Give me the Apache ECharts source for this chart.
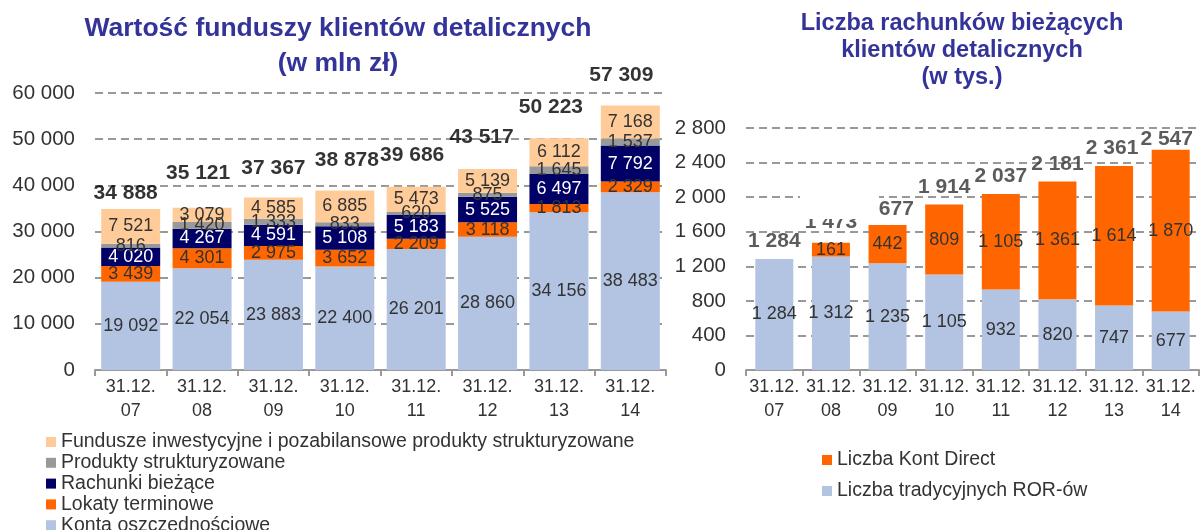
<!DOCTYPE html>
<html>
<head>
<meta charset="utf-8">
<title>Fundusze i rachunki klientów detalicznych</title>
<script src="https://cdn.jsdelivr.net/npm/echarts@6/dist/echarts.min.js"></script>
<style>
    html, body { margin: 0; padding: 0; background: #fff; }
    #charts { width: 1200px; height: 530px; }
</style>
</head>
<body>
<div id="charts"></div>
<script>
    'use strict';
    // os X - wspolna dla obu wykresow
    var categories = ['31.12.\n07', '31.12.\n08', '31.12.\n09', '31.12.\n10', '31.12.\n11', '31.12.\n12', '31.12.\n13', '31.12.\n14'];

    // lewy wykres (w mln zl)
    var kontaOszcz = [19092, 22054, 23883, 22400, 26201, 28860, 34156, 38483];
    var lokaty = [3439, 4301, 2975, 3652, 2209, 3118, 1813, 2329];
    var rachunki = [4020, 4267, 4591, 5108, 5183, 5525, 6497, 7792];
    var produktyStrukt = [816, 1420, 1333, 833, 620, 875, 1645, 1537];
    var fundusze = [7521, 3079, 4585, 6885, 5473, 5139, 6112, 7168];
    var fundTotals = [34888, 35121, 37367, 38878, 39686, 43517, 50223, 57309];

    // prawy wykres (w tys.)
    var tradycyjneROR = [1284, 1312, 1235, 1105, 932, 820, 747, 677];
    var kontaDirect = [0, 161, 442, 809, 1105, 1361, 1614, 1870];
    var rachTotals = [1284, 1473, 1677, 1914, 2037, 2181, 2361, 2547];

    var FONT = '"Liberation Sans", Arial, sans-serif';

    function fmt(v) {
        if (!v) return '';
        return String(v).replace(/\B(?=(\d{3})+(?!\d))/g, ' ');
    }

    function barSeries(name, data, color, gridIdx, stack, labelColor) {
        return {
            name: name,
            type: 'bar',
            stack: stack,
            xAxisIndex: gridIdx,
            yAxisIndex: gridIdx,
            data: data,
            barWidth: gridIdx === 0 ? 59 : 38,
            itemStyle: { color: color },
            label: {
                show: true,
                position: 'inside',
                color: labelColor || '#333',
                fontFamily: FONT,
                fontSize: 18,
                formatter: function(p) { return fmt(p.value); }
            }
        };
    }

    // sumy nad slupkami - niewidoczny scatter z etykieta
    function totalSeries(data, gridIdx, lift, shift, color) {
        return {
            type: 'scatter',
            xAxisIndex: gridIdx,
            yAxisIndex: gridIdx,
            symbolSize: 0,
            silent: true,
            z: 5,
            data: data.map(function(v, i) {
                return {
                    value: v,
                    label: { distance: lift[i], offset: [shift[i], 0] }
                };
            }),
            label: {
                show: true,
                position: 'top',
                color: color,
                fontFamily: FONT,
                fontWeight: 'bold',
                fontSize: 21,
                formatter: function(p) { return fmt(p.value); }
            }
        };
    }

    function catAxis(gridIdx) {
        return {
            type: 'category',
            gridIndex: gridIdx,
            data: categories,
            axisLine: { lineStyle: { color: '#999', width: 2 } },
            axisTick: { show: true, length: 6, lineStyle: { color: '#999', width: 2 } },
            axisLabel: { color: '#333', fontFamily: FONT, fontSize: 18, lineHeight: 24, margin: 5, interval: 0 }
        };
    }

    function valAxis(gridIdx, max, interval) {
        return {
            type: 'value',
            gridIndex: gridIdx,
            min: 0,
            max: max,
            interval: interval,
            axisLine: { show: false },
            axisTick: { show: false },
            axisLabel: {
                color: '#333', fontFamily: FONT, fontSize: 20.5, margin: 20,
                formatter: function(v) { return fmt(v) || '0'; }
            },
            splitLine: { lineStyle: { color: '#999', width: 2, type: [8, 5] } }
        };
    }

    var leftNames = ['Fundusze inwestycyjne i pozabilansowe produkty strukturyzowane', 'Produkty strukturyzowane', 'Rachunki bieżące', 'Lokaty terminowe', 'Konta oszczednościowe'];
    var rightNames = ['Liczba Kont Direct', 'Liczba tradycyjnych ROR-ów'];

    var legendText = { color: '#333', fontFamily: FONT, fontSize: 19.5, lineHeight: 19 };

    var options = {
        animation: false,
        backgroundColor: '#fff',
        title: [
            {
                text: 'Wartość funduszy klientów detalicznych\n(w mln zł)',
                left: 333,
                top: 6,
                textAlign: 'center',
                textStyle: { color: '#333399', fontFamily: FONT, fontWeight: 'bold', fontSize: 26.5, lineHeight: 35 }
            },
            {
                text: 'Liczba rachunków bieżących\nklientów detalicznych\n(w tys.)',
                left: 957,
                top: 5,
                textAlign: 'center',
                textStyle: { color: '#333399', fontFamily: FONT, fontWeight: 'bold', fontSize: 23.5, lineHeight: 27 }
            }
        ],
        legend: [
            {
                orient: 'vertical',
                left: 46,
                top: 432,
                height: 120,
                padding: 0,
                itemWidth: 10,
                itemHeight: 10,
                itemGap: 0.8,
                icon: 'rect',
                textStyle: legendText,
                data: leftNames
            },
            {
                orient: 'vertical',
                left: 822,
                top: 450,
                height: 100,
                padding: 0,
                itemWidth: 10,
                itemHeight: 10,
                itemGap: 11,
                icon: 'rect',
                textStyle: legendText,
                data: rightNames
            }
        ],
        grid: [
            { left: 95, right: 534, top: 93, bottom: 160 },
            { left: 746, right: 1, top: 128, bottom: 160 }
        ],
        xAxis: [catAxis(0), catAxis(1)],
        yAxis: [valAxis(0, 60000, 10000), valAxis(1, 2800, 400)],
        series: [
            barSeries('Konta oszczednościowe', kontaOszcz, '#B3C3E2', 0, 'fund'),
            barSeries('Lokaty terminowe', lokaty, '#FF6600', 0, 'fund'),
            barSeries('Rachunki bieżące', rachunki, '#000066', 0, 'fund', '#fff'),
            barSeries('Produkty strukturyzowane', produktyStrukt, '#999999', 0, 'fund'),
            barSeries(leftNames[0], fundusze, '#FFCC99', 0, 'fund'),
            totalSeries(fundTotals, 0, [5.5, 24.5, 19, 20, 21.5, 21.5, 20.5, 19.5], [-5, -4, 0, 2, -4, -6, -8, -9], '#000'),
            barSeries('Liczba tradycyjnych ROR-ów', tradycyjneROR, '#B3C3E2', 1, 'rach'),
            barSeries('Liczba Kont Direct', kontaDirect, '#FF6600', 1, 'rach'),
            totalSeries(rachTotals, 1, [7, 10, 5, 7, 7, 7, 7, 0], [0, 0, 0, 0, 0, 0, -2, -4], '#333')
        ],
        graphic: [
            // biala plamka zaslaniajaca fragment opisu, jak w oryginale
            { type: 'rect', left: 800, top: 185, z: 100, shape: { width: 79, height: 34 }, style: { fill: '#fff' } }
        ]
    };

    var chart = echarts.init(document.getElementById('charts'));
    chart.setOption(options);
</script>
</body>
</html>
